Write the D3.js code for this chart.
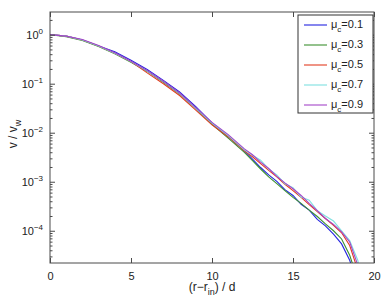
<!DOCTYPE html>
<html>
<head>
<meta charset="utf-8">
<script src="https://cdn.jsdelivr.net/npm/d3@7"></script>
<style>
  body { margin: 0; background: #fff; }
  svg { display: block; font-family: "Liberation Sans", Arial, sans-serif; }
</style>
</head>
<body>
<div id="chart"></div>
<script>
// distance (r - r_in)/d
const xs = [0, 1, 2, 3, 4, 5, 6, 7, 8, 9, 10, 11, 12, 12.5, 13, 13.5, 14, 14.5, 15, 15.5, 16, 16.5, 17, 17.5, 18, 18.5, 19, 19.5];

// v / v_w for each mu_c
const mu01 = [1, 0.933, 0.776, 0.589, 0.447, 0.302, 0.195, 0.117, 0.0676, 0.0339, 0.0158, 0.0083, 0.00427, 0.00288, 0.00195, 0.00138, 0.00102, 0.00069, 0.000525, 0.000347, 0.000263, 0.00017, 0.000126, 8.5e-5, 5.4e-5, 2.5e-5, 7.9e-6, 2e-6];
const mu03 = [1, 0.912, 0.759, 0.575, 0.407, 0.275, 0.178, 0.107, 0.0617, 0.0309, 0.0148, 0.00776, 0.00398, 0.00269, 0.00182, 0.00126, 0.000912, 0.000661, 0.000479, 0.000363, 0.000263, 0.000195, 0.000138, 0.0001, 6.8e-5, 3.16e-5, 1e-5, 2e-6];
const mu05 = [1, 0.933, 0.776, 0.589, 0.417, 0.282, 0.166, 0.1, 0.0575, 0.0288, 0.0145, 0.0083, 0.00427, 0.00324, 0.00234, 0.0017, 0.00126, 0.00089, 0.00066, 0.00048, 0.00034, 0.000245, 0.000178, 0.000129, 9.1e-5, 5e-5, 1.58e-5, 2.5e-6];
const mu07 = [1, 0.933, 0.776, 0.589, 0.417, 0.282, 0.182, 0.11, 0.0631, 0.0316, 0.0158, 0.0087, 0.00447, 0.00347, 0.00275, 0.00182, 0.00138, 0.00091, 0.00076, 0.00049, 0.00042, 0.000257, 0.0002, 0.000158, 0.0001, 6.3e-5, 2.5e-5, 4e-6];
const mu09 = [1, 0.933, 0.794, 0.603, 0.427, 0.288, 0.186, 0.112, 0.0646, 0.0324, 0.0162, 0.00912, 0.00468, 0.00355, 0.00251, 0.00186, 0.00129, 0.00095, 0.00072, 0.000525, 0.000363, 0.000257, 0.000178, 0.000135, 9.5e-5, 5.9e-5, 2e-5, 2.5e-6];

const seriesNames = ["0.1", "0.3", "0.5", "0.7", "0.9"];
const seriesValues = [mu01, mu03, mu05, mu07, mu09];
const colors = ["#2424e0", "#3c9030", "#e23c22", "#7fe0e0", "#a445c8"];

const xTicks = [0, 5, 10, 15, 20];
const yExps = [0, -1, -2, -3, -4];

const W = 388, H = 299;
const margin = { top: 12, right: 14, bottom: 36, left: 50 };
const width = W - margin.left - margin.right;
const height = H - margin.top - margin.bottom;

const svg = d3.select("#chart").append("svg")
    .attr("width", W)
    .attr("height", H);

const g = svg.append("g")
    .attr("transform", `translate(${margin.left},${margin.top})`);

const x = d3.scaleLinear().domain([0, 20]).range([0, width]);
const y = d3.scaleLog().domain([2.2e-5, 2.9]).range([height, 0]);

g.append("clipPath").attr("id", "clip")
    .append("rect").attr("width", width).attr("height", height);

// curves
const line = d3.line()
    .x((d, i) => x(xs[i]))
    .y(d => y(d));

seriesValues.forEach((vals, k) => {
    g.append("path")
        .datum(vals)
        .attr("clip-path", "url(#clip)")
        .attr("fill", "none")
        .attr("stroke", colors[k])
        .attr("stroke-width", 1.1)
        .attr("d", line);
});

const axisColor = "#4a4a4a";

// frame
g.append("rect")
    .attr("width", width).attr("height", height)
    .attr("fill", "none").attr("stroke", axisColor).attr("stroke-width", 1);

// ticks inside (matlab style)
const minorTicks = [];
for (let e = -5; e <= 0; e++) {
    for (let m = 2; m <= 9; m++) {
        const v = m * Math.pow(10, e);
        if (v > y.domain()[0] && v < y.domain()[1]) minorTicks.push(v);
    }
}

const bottomAxis = d3.axisBottom(x).tickValues(xTicks).tickSizeInner(-5).tickSizeOuter(0).tickPadding(9);
const topAxis = d3.axisTop(x).tickValues(xTicks).tickSizeInner(-5).tickSizeOuter(0).tickFormat("");
const leftAxis = d3.axisLeft(y).tickValues(yExps.map(e => Math.pow(10, e))).tickSizeInner(-5).tickSizeOuter(0).tickFormat("");
const rightAxis = d3.axisRight(y).tickValues(yExps.map(e => Math.pow(10, e))).tickSizeInner(-5).tickSizeOuter(0).tickFormat("");
const leftMinor = d3.axisLeft(y).tickValues(minorTicks).tickSizeInner(-2.5).tickSizeOuter(0).tickFormat("");
const rightMinor = d3.axisRight(y).tickValues(minorTicks).tickSizeInner(-2.5).tickSizeOuter(0).tickFormat("");

function styleAxis(sel) {
    sel.select(".domain").remove();
    sel.selectAll("line").attr("stroke", axisColor);
    sel.selectAll("text").attr("fill", "#222").style("font-size", "11px");
}

g.append("g").attr("transform", `translate(0,${height})`).call(bottomAxis).call(styleAxis);
g.append("g").call(topAxis).call(styleAxis);
g.append("g").call(leftAxis).call(styleAxis);
g.append("g").attr("transform", `translate(${width},0)`).call(rightAxis).call(styleAxis);
g.append("g").call(leftMinor).call(styleAxis);
g.append("g").attr("transform", `translate(${width},0)`).call(rightMinor).call(styleAxis);

// y tick labels 10^n
yExps.forEach(e => {
    const t = g.append("text")
        .attr("x", -7)
        .attr("y", y(Math.pow(10, e)) + 4)
        .attr("text-anchor", "end")
        .attr("fill", "#222")
        .style("font-size", "11px");
    t.append("tspan").text("10");
    t.append("tspan").attr("dy", -5).style("font-size", "8px").text(e === 0 ? "0" : "\u2212" + (-e));
});

// axis labels
const xl = svg.append("text")
    .attr("x", margin.left + width / 2)
    .attr("y", H - 8)
    .attr("text-anchor", "middle")
    .attr("fill", "#222")
    .style("font-size", "12px");
xl.append("tspan").text("(r\u2212r");
xl.append("tspan").attr("dy", 4).style("font-size", "9px").text("in");
xl.append("tspan").attr("dy", -4).text(") / d");

const yl = svg.append("text")
    .attr("transform", `translate(17,${margin.top + 122}) rotate(-90)`)
    .attr("text-anchor", "middle")
    .attr("fill", "#222")
    .style("font-size", "12px");
yl.append("tspan").text("v / v");
yl.append("tspan").attr("dy", 4).style("font-size", "9px").text("w");

// legend
const lg = g.append("g").attr("transform", `translate(${width - 76},3)`);
lg.append("rect")
    .attr("width", 75).attr("height", 98)
    .attr("fill", "#fff").attr("stroke", "#333").attr("stroke-width", 1);
seriesNames.forEach((name, k) => {
    const yy = 10 + k * 20;
    lg.append("line")
        .attr("x1", 6).attr("x2", 29).attr("y1", yy).attr("y2", yy)
        .attr("stroke", colors[k]).attr("stroke-width", 1.1);
    const t = lg.append("text")
        .attr("x", 33).attr("y", yy + 3)
        .attr("fill", "#222")
        .style("font-size", "11px");
    t.append("tspan").text("\u03bc");
    t.append("tspan").attr("dy", 4).style("font-size", "8px").text("c");
    t.append("tspan").attr("dy", -4).text("=" + name);
});
</script>
</body>
</html>
